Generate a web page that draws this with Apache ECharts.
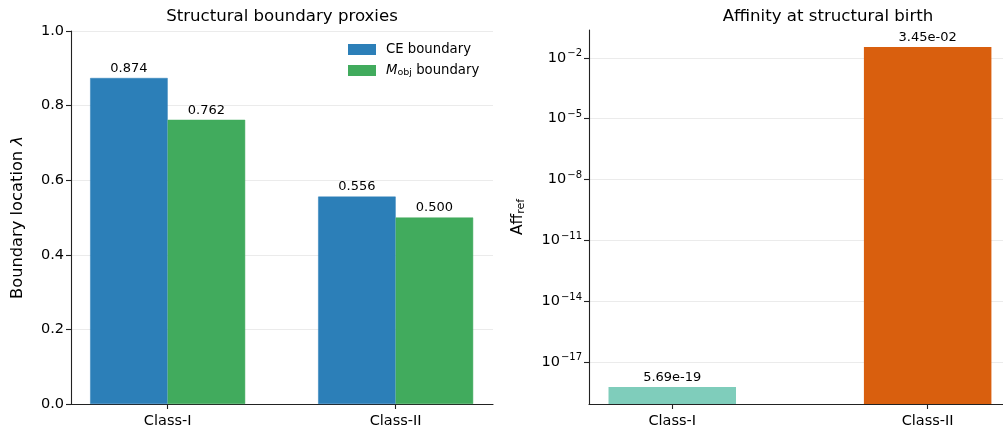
<!DOCTYPE html>
<html>
<head>
<meta charset="utf-8">
<script src="https://cdn.jsdelivr.net/npm/echarts@6/dist/echarts.min.js"></script>
<style>html,body{margin:0;padding:0;background:#fff}#c{width:1003px;height:430px}</style>
</head>
<body>
<div id="c"></div>
<script>
const categories = ['Class-I', 'Class-II'];
const ceBoundary = [0.874, 0.556];
const mobjBoundary = [0.762, 0.500];
const affinity = [5.69e-19, 3.45e-2];
const leftTicks = [0, 0.2, 0.4, 0.6, 0.8, 1.0];
const logTicks = [1e-17, 1e-14, 1e-11, 1e-8, 1e-5, 1e-2];
const positions = [0, 1];

const FONT = 'DejaVu Sans';
const AX = '#222';
const TXT = '#000';
const GRIDC = '#ebebeb';

function sci(v) {
  return v.toExponential(2).replace(/e([+-])(\d)$/, 'e$10$2');
}
function pow10Label(v) {
  const e = Math.round(Math.log10(v));
  return '10{sup|' + (e < 0 ? '\u2212' + (-e) : e) + '}';
}

const chart = echarts.init(document.getElementById('c'), null, {renderer: 'canvas'});
const option = {
  animation: false,
  backgroundColor: '#fff',
  title: [
    {text: 'Structural boundary proxies', left: 277, top: 3, textAlign: 'center',
     textStyle: {fontFamily: FONT, fontSize: 16.6, fontWeight: 'normal', color: TXT}},
    {text: 'Affinity at structural birth', left: 823, top: 3, textAlign: 'center',
     textStyle: {fontFamily: FONT, fontSize: 16.6, fontWeight: 'normal', color: TXT}}
  ],
  legend: {
    left: 348, top: 43, orient: 'vertical', itemWidth: 26, itemHeight: 9, itemGap: 8, padding: 0,
    icon: 'rect',
    data: ['CE boundary', 'Mobj boundary'],
    formatter: function (n) { return n === 'CE boundary' ? n : '{i|M}{s|obj} boundary'; },
    textStyle: {fontFamily: FONT, fontSize: 13.25, color: TXT, padding: [0, 0, 0, 6],
      rich: {i: {fontFamily: FONT, fontStyle: 'italic', fontSize: 13.25, color: TXT},
             s: {fontFamily: FONT, fontSize: 9.5, color: TXT, padding: [5, 0, 0, 0]}}}
  },
  grid: [
    {left: 71, top: 31, width: 422, height: 373},
    {left: 589, top: 30, width: 414, height: 374}
  ],
  xAxis: [
    {type: 'value', gridIndex: 0, min: -0.424, max: 1.427,
     axisLine: {show: true, onZero: false, lineStyle: {color: AX, width: 1.1}},
     axisTick: {show: true, length: 5, lineStyle: {color: AX, width: 1.1}, customValues: positions},
     axisLabel: {customValues: positions, fontFamily: FONT, fontSize: 14.5, color: TXT, margin: 10,
       formatter: function (v) { return categories[Math.round(v)]; }},
     splitLine: {show: false}},
    {type: 'value', gridIndex: 1, min: -0.326, max: 1.295,
     axisLine: {show: true, onZero: false, lineStyle: {color: AX, width: 1.1}},
     axisTick: {show: true, length: 5, lineStyle: {color: AX, width: 1.1}, customValues: positions},
     axisLabel: {customValues: positions, fontFamily: FONT, fontSize: 14.5, color: TXT, margin: 10,
       formatter: function (v) { return categories[Math.round(v)]; }},
     splitLine: {show: false}}
  ],
  yAxis: [
    {type: 'value', gridIndex: 0, min: 0, max: 1, interval: 0.2,
     name: 'Boundary location {l|\u03bb}', nameLocation: 'middle', nameGap: 45,
     nameTextStyle: {fontFamily: FONT, fontSize: 16.3, color: TXT,
       rich: {l: {fontFamily: FONT, fontStyle: 'italic', fontSize: 16.3, color: TXT}}},
     axisLine: {show: true, onZero: false, lineStyle: {color: AX, width: 1.1}},
     axisTick: {show: true, length: 5, lineStyle: {color: AX, width: 1.1}},
     axisLabel: {fontFamily: FONT, fontSize: 14.5, color: TXT, margin: 7,
       formatter: function (v) { return v.toFixed(1); }},
     splitLine: {show: true, lineStyle: {color: GRIDC, width: 1}}},
    {type: 'log', gridIndex: 1, logBase: 10,
     min: Math.pow(10, -19.084), max: Math.pow(10, -0.623), startValue: 1e-30,
     name: '{a|Aff}{s|ref}', nameLocation: 'middle', nameGap: 62,
     nameTextStyle: {fontFamily: FONT, fontSize: 15.5, color: TXT,
       rich: {a: {fontFamily: FONT, fontSize: 15.5, color: TXT},
              s: {fontFamily: FONT, fontSize: 11, color: TXT, padding: [7, 0, 0, 0]}}},
     axisLine: {show: true, onZero: false, lineStyle: {color: AX, width: 1.1}},
     axisTick: {show: true, length: 5, lineStyle: {color: AX, width: 1.1}, customValues: logTicks},
     axisLabel: {customValues: logTicks, fontFamily: FONT, fontSize: 14.5, color: TXT, margin: 7,
       formatter: pow10Label,
       rich: {sup: {fontFamily: FONT, fontSize: 10, color: TXT, padding: [0, 0, 8, 1]}}},
     splitLine: {show: true, lineStyle: {color: GRIDC, width: 1}}}
  ],
  series: [
    {name: 'CE boundary', type: 'bar', xAxisIndex: 0, yAxisIndex: 0, barWidth: 77.5, barGap: '0%',
     itemStyle: {color: '#2c7fb8', borderColor: '#2c7fb8', borderWidth: 0.5},
     data: positions.map((p, i) => [p, ceBoundary[i]]),
     label: {show: true, position: 'top', distance: 3, fontFamily: FONT, fontSize: 13, color: TXT,
       formatter: function (p) { return p.value[1].toFixed(3); }}},
    {name: 'Mobj boundary', type: 'bar', xAxisIndex: 0, yAxisIndex: 0, barWidth: 77.5, barGap: '0%',
     itemStyle: {color: '#41ab5d', borderColor: '#41ab5d', borderWidth: 0.5},
     data: positions.map((p, i) => [p, mobjBoundary[i]]),
     label: {show: true, position: 'top', distance: 3, fontFamily: FONT, fontSize: 13, color: TXT,
       formatter: function (p) { return p.value[1].toFixed(3); }}},
    {name: 'Affinity', type: 'bar', xAxisIndex: 1, yAxisIndex: 1, barWidth: 127.5,
     data: positions.map((p, i) => ({value: [p, affinity[i]], itemStyle: {color: i === 0 ? '#7fcdbb' : '#d95f0e'}})),
     label: {show: true, position: 'top', distance: 3, fontFamily: FONT, fontSize: 13, color: TXT,
       formatter: function (p) { return sci(p.value[1]); }}}
  ]
};
chart.setOption(option);
</script>
</body>
</html>
